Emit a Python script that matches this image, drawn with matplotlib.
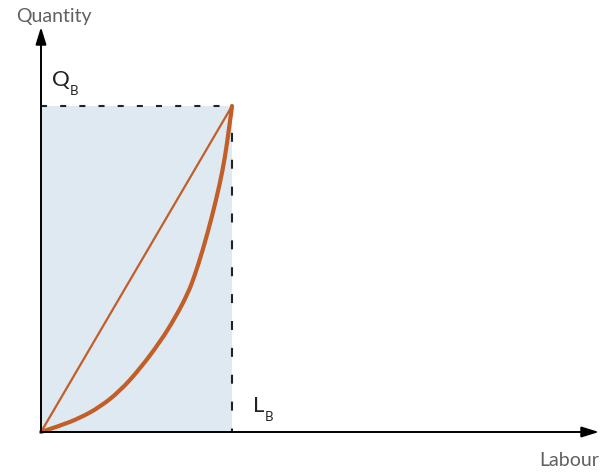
import matplotlib
matplotlib.use("Agg")
import matplotlib.pyplot as plt
from matplotlib.path import Path
from matplotlib.patches import PathPatch

# Data (normalised: L_B = 1, Q_B = 1)
labour_b = 1.0
quantity_b = 1.0
curve_labour = [0.0, 0.099, 0.204, 0.309, 0.414, 0.518, 0.623, 0.702, 0.770,
                0.806, 0.848, 0.895, 0.937, 0.963, 0.984, 1.0]
curve_quantity = [0.0, 0.019, 0.043, 0.077, 0.126, 0.194, 0.276, 0.350, 0.426,
                  0.482, 0.560, 0.660, 0.763, 0.842, 0.928, 1.0]
axis_labels = ["Labour", "Quantity"]
point_labels = ["Q", "L", "B"]

W, H = 608, 472
fig = plt.figure(figsize=(W / 100, H / 100), dpi=100)
ax = fig.add_axes([0, 0, 1, 1])
ox, oy = 41, 432
sx, sy = 191, 326
ax.set_xlim(-ox / sx, (W - ox) / sx)
ax.set_ylim(-(H - oy) / sy, oy / sy)
ax.axis("off")

orange = "#C25E28"
fill = "#DFE9F1"
gray = "#606060"
dark = "#222222"

# shaded rectangle
ax.fill_between([0, labour_b], 0, quantity_b, color=fill, lw=0, zorder=1)

# dashed lines
ax.plot([0, labour_b], [quantity_b, quantity_b], color=dark, lw=1.5,
        dashes=(2.9, 6.3), dash_capstyle="butt", zorder=2)
ax.plot([labour_b, labour_b], [quantity_b, 0], color=dark, lw=1.5,
        dashes=(4.3, 8.6), dash_capstyle="butt", zorder=2)

# straight line
ax.plot([0, labour_b], [0, quantity_b], color=orange, lw=1.6, zorder=3,
        solid_capstyle="round")

# smooth curve through the read points (quadratic Bezier via midpoints)
pts = list(zip(curve_labour, curve_quantity))
verts = [pts[0]]
codes = [Path.MOVETO]
for i in range(1, len(pts) - 1):
    mid = ((pts[i][0] + pts[i + 1][0]) / 2, (pts[i][1] + pts[i + 1][1]) / 2)
    if i == len(pts) - 2:
        mid = pts[-1]
    verts += [pts[i], mid]
    codes += [Path.CURVE3, Path.CURVE3]
ax.add_patch(PathPatch(Path(verts, codes), fc="none", ec=orange, lw=3.0,
                       capstyle="round", joinstyle="round", zorder=3))

# axes arrows
x_tip = (599 - ox) / sx
y_tip = (oy - 27) / sy
style = "-|>,head_length=0.65,head_width=0.2"
ax.annotate("", xy=(x_tip, 0), xytext=(0, 0),
            arrowprops=dict(arrowstyle=style, lw=1.4, color="black",
                            mutation_scale=16, shrinkA=0, shrinkB=0), zorder=4)
ax.annotate("", xy=(0, y_tip), xytext=(0, 0),
            arrowprops=dict(arrowstyle=style, lw=1.4, color="black",
                            mutation_scale=16, shrinkA=0, shrinkB=0), zorder=4)

font = "Lato"
# axis labels
ax.text((16 - ox) / sx, (oy - 22) / sy, axis_labels[1], fontsize=14,
        color=gray, family=font, ha="left", va="baseline")
ax.text((599 - ox) / sx, (oy - 466) / sy, axis_labels[0], fontsize=14,
        color=gray, family=font, ha="right", va="baseline")

# point labels
ax.text((52 - ox) / sx, (oy - 86) / sy, point_labels[0], fontsize=16,
        color=dark, family=font, ha="left", va="baseline")
ax.text((70 - ox) / sx, (oy - 95) / sy, point_labels[2], fontsize=9.5,
        color=dark, family=font, ha="left", va="baseline")
ax.text((253 - ox) / sx, (oy - 412) / sy, point_labels[1], fontsize=16,
        color=dark, family=font, ha="left", va="baseline")
ax.text((265 - ox) / sx, (oy - 421) / sy, point_labels[2], fontsize=9.5,
        color=dark, family=font, ha="left", va="baseline")

fig.savefig("out.png", dpi=100)
